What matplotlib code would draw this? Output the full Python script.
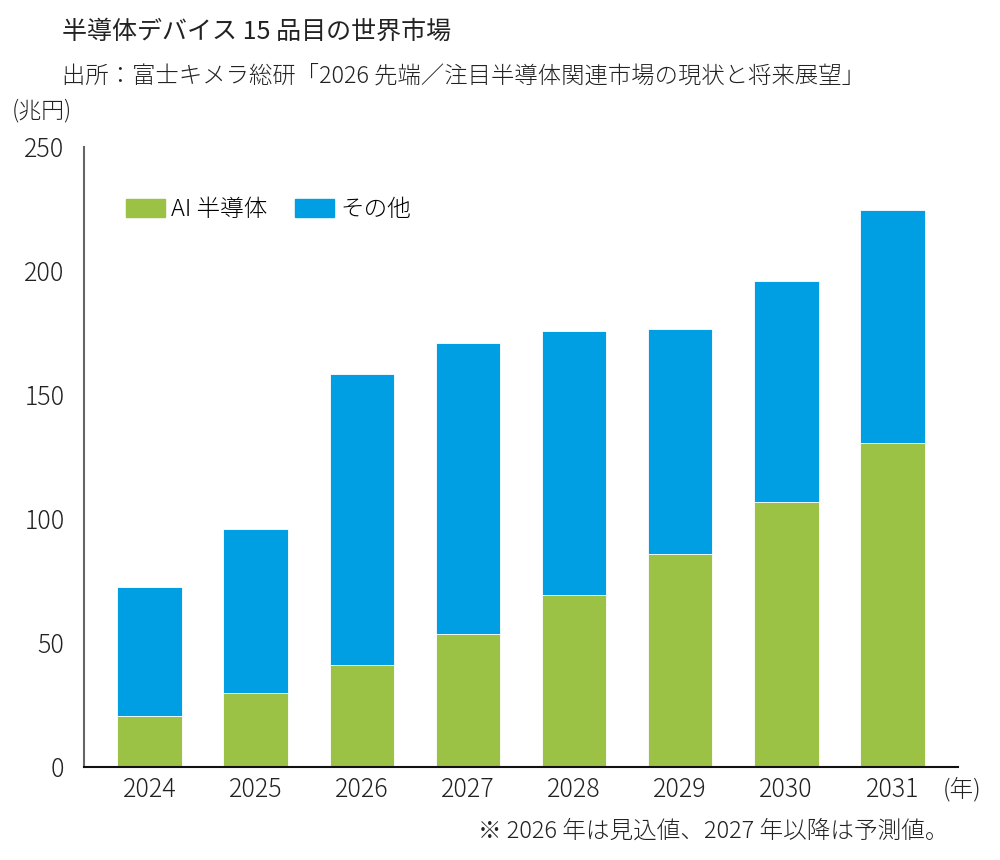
import matplotlib
matplotlib.use("Agg")
from matplotlib import pyplot as plt
from matplotlib.patches import Patch

plt.rcParams['font.family'] = ['Noto Sans CJK JP', 'DejaVu Sans']
plt.rcParams['font.weight'] = 'light'

YEARS = ["2024", "2025", "2026", "2027", "2028", "2029", "2030", "2031"]
AI_SEMI = [20.5, 30.0, 41.0, 53.5, 69.5, 86.0, 107.0, 130.5]
TOTAL = [72.5, 96.0, 158.5, 171.0, 176.0, 176.5, 196.0, 224.5]
OTHERS = [t - a for t, a in zip(TOTAL, AI_SEMI)]
Y_TICKS = [0, 50, 100, 150, 200, 250]

GREEN = "#9BC145"
BLUE = "#009FE3"
TEXT = "#222222"


def main():
    fig: plt.Figure = plt.figure(figsize=(10, 8.6), dpi=100)
    ax: plt.Axes = fig.add_axes([0.084, 0.108, 0.874, 0.721])

    xs = range(len(YEARS))
    ax.bar(xs, AI_SEMI, width=0.61, color=GREEN, edgecolor="white", linewidth=0.6)
    ax.bar(xs, OTHERS, width=0.61, bottom=AI_SEMI, color=BLUE, edgecolor="white", linewidth=0.6)

    ax.set_xlim(-0.62, 7.62)
    ax.set_ylim(0, 250)
    ax.set_xticks(list(xs))
    ax.set_xticklabels(YEARS)
    ax.set_yticks(Y_TICKS)
    ax.tick_params(axis="both", length=0, labelsize=18, colors=TEXT)
    ax.tick_params(axis="x", pad=7)
    ax.tick_params(axis="y", pad=14)

    for side in ("top", "right"):
        ax.spines[side].set_visible(False)
    ax.spines["left"].set_color("#666666")
    ax.spines["left"].set_linewidth(1.5)
    ax.spines["bottom"].set_color("#111111")
    ax.spines["bottom"].set_linewidth(1.5)

    handles = [Patch(color=GREEN, label="AI 半導体"), Patch(color=BLUE, label="その他")]
    ax.legend(handles=handles, loc="upper left", bbox_to_anchor=(0.037, 0.935),
              ncol=2, frameon=False, fontsize=17, handlelength=1.65, handleheight=0.8,
              handletextpad=0.25, columnspacing=1.2, borderaxespad=0)

    fig.text(0.062, 0.963, "半導体デバイス 15 品目の世界市場", fontsize=18, color=TEXT,
             va="center", ha="left", fontweight="regular")
    fig.text(0.062, 0.912, "出所：富士キメラ総研「2026 先端／注目半導体関連市場の現状と将来展望」",
             fontsize=16.8, color=TEXT, va="center", ha="left")
    fig.text(0.012, 0.871, "(兆円)", fontsize=16.5, color=TEXT, va="center", ha="left")
    fig.text(0.943, 0.081, "(年)", fontsize=17, color=TEXT, va="center", ha="left")
    fig.text(0.948, 0.034, "※ 2026 年は見込値、2027 年以降は予測値。", fontsize=17,
             color=TEXT, va="center", ha="right")

    fig.savefig("out.png", dpi=100)


if __name__ == '__main__':
    main()
